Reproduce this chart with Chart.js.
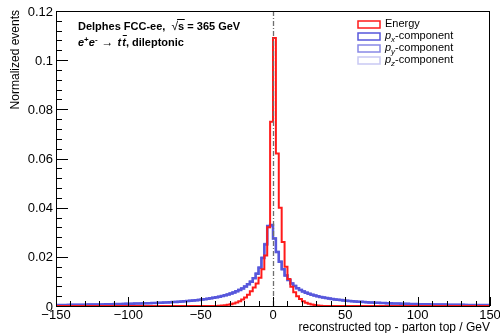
<!DOCTYPE html>
<html>
<head>
<meta charset="utf-8">
<script src="https://cdn.jsdelivr.net/npm/chart.js@4/dist/chart.umd.min.js"></script>
<style>
  body { margin: 0; background: #fff; }
  canvas { display: block; }
</style>
</head>
<body>
<canvas id="grafico" width="500" height="333"></canvas>
<script>
// histogram binning: 150 bins of 2 GeV, -150 .. 150
const binLo = -150;
const binHi = 150;
const binWidth = 2;

const xTicks      = [-150, -100, -50, 0, 50, 100, 150];
const xTickLabels = ['\u2212150', '\u2212100', '\u221250', '0', '50', '100', '150'];
const yTicks      = [0, 0.02, 0.04, 0.06, 0.08, 0.1, 0.12];
const yTickLabels = ['0', '0.02', '0.04', '0.06', '0.08', '0.1', '0.12'];

const seriesNames = ['Energy', 'p_x-component', 'p_y-component', 'p_z-component'];

// Energy (red)
const energyVals = [
  0,0,0,0,0,0,0,0,0,0, 0,0,0,0,0,0,0,0,0,0,
  0,0,0,0,0,0,0,0,0,0, 0,0,0,0,0,0,0,0,0,0,
  0,0,0,0,0,0,0,0,0,0, 0,0,0,0,0,0,0,
  0.0001, 0.0002, 0.0003, 0.0005, 0.0007, 0.0010, 0.0014, 0.0019, 0.0026, 0.0035,
  0.0046, 0.0060, 0.0075, 0.0092, 0.0115, 0.0150, 0.0205, 0.0320, 0.0750, 0.1090,
  0.0620, 0.0400, 0.0260, 0.0160, 0.0110, 0.0078, 0.0056, 0.0040, 0.0028, 0.0019,
  0.0013, 0.0009, 0.0006, 0.0004, 0.0002, 0.0001,
  0,0,0,0,0,0,0,0,0,0, 0,0,0,0,0,0,0,0,0,0,
  0,0,0,0,0,0,0,0,0,0, 0,0,0,0,0,0,0,0,0,0,
  0,0,0,0,0,0,0,0,0,0, 0,0,0,0,0,0,0
];

// p_x (blue)
const pxVals = [
  0.00040, 0.00041, 0.00042, 0.00043, 0.00044, 0.00045, 0.00047, 0.00048, 0.00050, 0.00051,
  0.00053, 0.00055, 0.00056, 0.00058, 0.00060, 0.00062, 0.00064, 0.00066, 0.00069, 0.00071,
  0.00074, 0.00077, 0.00080, 0.00083, 0.00086, 0.00088, 0.00091, 0.00094, 0.00097, 0.00100,
  0.00104, 0.00108, 0.00112, 0.00116, 0.00120, 0.00125, 0.00130, 0.00135, 0.00141, 0.00147,
  0.00153, 0.00160, 0.00167, 0.00175, 0.00183, 0.00192, 0.00202, 0.00212, 0.00223, 0.00235,
  0.00248, 0.00262, 0.00277, 0.00294, 0.00312, 0.00332, 0.00354, 0.00378, 0.00405, 0.00435,
  0.00468, 0.00505, 0.00547, 0.00595, 0.00650, 0.00715, 0.00790, 0.00880, 0.00990, 0.01130,
  0.01310, 0.01560, 0.01950, 0.02500, 0.03250, 0.03300, 0.02750, 0.02200, 0.01800, 0.01500,
  0.01240, 0.01060, 0.00920, 0.00810, 0.00720, 0.00650, 0.00590, 0.00540, 0.00495, 0.00458,
  0.00425, 0.00395, 0.00368, 0.00344, 0.00322, 0.00302, 0.00284, 0.00268, 0.00253, 0.00240,
  0.00227, 0.00215, 0.00204, 0.00194, 0.00185, 0.00176, 0.00168, 0.00160, 0.00153, 0.00146,
  0.00140, 0.00134, 0.00128, 0.00123, 0.00118, 0.00113, 0.00109, 0.00105, 0.00101, 0.00097,
  0.00094, 0.00090, 0.00087, 0.00084, 0.00081, 0.00078, 0.00075, 0.00073, 0.00070, 0.00068,
  0.00066, 0.00064, 0.00062, 0.00060, 0.00058, 0.00056, 0.00054, 0.00052, 0.00051, 0.00049,
  0.00048, 0.00046, 0.00045, 0.00044, 0.00042, 0.00041, 0.00040, 0.00039, 0.00038, 0.00037
];

// p_y (lighter blue)
const pyVals = [
  0.00039, 0.00040, 0.00042, 0.00043, 0.00044, 0.00046, 0.00047, 0.00049, 0.00050, 0.00052,
  0.00053, 0.00055, 0.00057, 0.00059, 0.00061, 0.00063, 0.00065, 0.00067, 0.00070, 0.00072,
  0.00075, 0.00078, 0.00081, 0.00084, 0.00087, 0.00090, 0.00093, 0.00096, 0.00099, 0.00103,
  0.00106, 0.00110, 0.00114, 0.00118, 0.00123, 0.00127, 0.00132, 0.00137, 0.00143, 0.00149,
  0.00155, 0.00162, 0.00169, 0.00177, 0.00185, 0.00194, 0.00204, 0.00214, 0.00226, 0.00238,
  0.00251, 0.00265, 0.00280, 0.00297, 0.00315, 0.00335, 0.00357, 0.00381, 0.00408, 0.00438,
  0.00472, 0.00510, 0.00552, 0.00600, 0.00656, 0.00720, 0.00796, 0.00886, 0.00996, 0.01136,
  0.01318, 0.01570, 0.01960, 0.02520, 0.03220, 0.03280, 0.02760, 0.02210, 0.01810, 0.01510,
  0.01250, 0.01070, 0.00930, 0.00820, 0.00728, 0.00656, 0.00596, 0.00545, 0.00500, 0.00462,
  0.00428, 0.00398, 0.00371, 0.00347, 0.00325, 0.00305, 0.00287, 0.00270, 0.00255, 0.00242,
  0.00229, 0.00217, 0.00206, 0.00196, 0.00186, 0.00177, 0.00169, 0.00161, 0.00154, 0.00147,
  0.00141, 0.00135, 0.00129, 0.00124, 0.00119, 0.00114, 0.00110, 0.00106, 0.00102, 0.00098,
  0.00095, 0.00091, 0.00088, 0.00085, 0.00082, 0.00079, 0.00076, 0.00074, 0.00071, 0.00069,
  0.00067, 0.00065, 0.00063, 0.00061, 0.00059, 0.00057, 0.00055, 0.00053, 0.00052, 0.00050,
  0.00049, 0.00047, 0.00046, 0.00045, 0.00043, 0.00042, 0.00041, 0.00040, 0.00039, 0.00038
];

// p_z (pale lavender)
const pzVals = [
  0.00041, 0.00042, 0.00043, 0.00044, 0.00045, 0.00046, 0.00048, 0.00049, 0.00051, 0.00052,
  0.00054, 0.00056, 0.00057, 0.00059, 0.00061, 0.00063, 0.00066, 0.00068, 0.00070, 0.00073,
  0.00076, 0.00079, 0.00082, 0.00085, 0.00088, 0.00091, 0.00094, 0.00097, 0.00101, 0.00104,
  0.00108, 0.00112, 0.00116, 0.00120, 0.00124, 0.00129, 0.00134, 0.00139, 0.00145, 0.00151,
  0.00157, 0.00164, 0.00171, 0.00179, 0.00187, 0.00196, 0.00206, 0.00217, 0.00228, 0.00240,
  0.00253, 0.00267, 0.00283, 0.00300, 0.00318, 0.00338, 0.00360, 0.00384, 0.00411, 0.00441,
  0.00475, 0.00512, 0.00555, 0.00604, 0.00660, 0.00725, 0.00800, 0.00890, 0.01000, 0.01140,
  0.01320, 0.01580, 0.01970, 0.02540, 0.03200, 0.03260, 0.02740, 0.02190, 0.01790, 0.01490,
  0.01230, 0.01050, 0.00915, 0.00805, 0.00716, 0.00646, 0.00588, 0.00538, 0.00493, 0.00456,
  0.00423, 0.00393, 0.00366, 0.00342, 0.00320, 0.00300, 0.00282, 0.00266, 0.00251, 0.00238,
  0.00225, 0.00213, 0.00202, 0.00192, 0.00183, 0.00174, 0.00166, 0.00158, 0.00151, 0.00145,
  0.00139, 0.00133, 0.00127, 0.00122, 0.00117, 0.00112, 0.00108, 0.00104, 0.00100, 0.00096,
  0.00093, 0.00089, 0.00086, 0.00083, 0.00080, 0.00077, 0.00074, 0.00072, 0.00069, 0.00067,
  0.00065, 0.00063, 0.00061, 0.00059, 0.00057, 0.00055, 0.00053, 0.00051, 0.00050, 0.00048,
  0.00047, 0.00045, 0.00044, 0.00043, 0.00041, 0.00040, 0.00039, 0.00038, 0.00037, 0.00036
];

const coloresSeries = ['#ff1a1a', '#5757dc', '#8888e6', '#c9c9f3'];

// bin contents -> step points at bin edges (last point closes the final bin)
function puntosHist(vals) {
    const pts = vals.map((v, i) => ({ x: binLo + i * binWidth, y: v }));
    pts.push({ x: binHi, y: vals[vals.length - 1] });
    return pts;
}

const FONT = '"Liberation Sans", Arial, Helvetica, sans-serif';

// — ejes estilo ROOT, línea a 0, textos y leyenda —
const pluginMarco = {
    id: 'marco',
    afterDatasetsDraw(chart) {
        const ctx = chart.ctx;
        const a = chart.chartArea;
        const sx = chart.scales.x;
        const sy = chart.scales.y;
        ctx.save();

        // dash-dot line at zero
        ctx.strokeStyle = '#6e6e6e';
        ctx.lineWidth = 1.3;
        ctx.setLineDash([5, 2, 1, 2]);
        const x0 = Math.round(sx.getPixelForValue(0)) + 0.5;
        ctx.beginPath();
        ctx.moveTo(x0, a.top);
        ctx.lineTo(x0, a.bottom);
        ctx.stroke();
        ctx.setLineDash([]);

        // frame
        ctx.strokeStyle = '#000';
        ctx.lineWidth = 1;
        ctx.strokeRect(a.left + 0.5, a.top + 0.5, a.right - a.left - 1, a.bottom - a.top);

        // y ticks (inside), minor every 0.004
        ctx.beginPath();
        for (let k = 0; k <= 30; k++) {
            const v = k * 0.004;
            const py = Math.round(sy.getPixelForValue(v)) + 0.5;
            const len = (k % 5 === 0) ? 12 : 6;
            ctx.moveTo(a.left, py);
            ctx.lineTo(a.left + len, py);
        }
        // x ticks (inside), minor every 10
        for (let k = 0; k <= 30; k++) {
            const v = binLo + k * 10;
            const px = Math.round(sx.getPixelForValue(v)) + 0.5;
            const len = (k % 5 === 0) ? 9 : 5;
            ctx.moveTo(px, a.bottom);
            ctx.lineTo(px, a.bottom - len);
        }
        ctx.stroke();

        // tick labels
        ctx.fillStyle = '#000';
        ctx.font = '13px ' + FONT;
        ctx.textAlign = 'right';
        ctx.textBaseline = 'middle';
        yTicks.forEach((v, i) => {
            ctx.fillText(yTickLabels[i], a.left - 3, sy.getPixelForValue(v) + 1);
        });
        ctx.textAlign = 'center';
        ctx.textBaseline = 'top';
        xTicks.forEach((v, i) => {
            ctx.fillText(xTickLabels[i], sx.getPixelForValue(v), a.bottom + 3);
        });

        // axis titles
        ctx.font = '12px ' + FONT;
        ctx.textAlign = 'right';
        ctx.textBaseline = 'alphabetic';
        ctx.fillText('reconstructed top - parton top / GeV', a.right, 331);
        ctx.save();
        ctx.translate(19, a.top - 1);
        ctx.rotate(-Math.PI / 2);
        ctx.fillText('Normalized events', 0, 0);
        ctx.restore();

        // labels inside the plot
        ctx.textAlign = 'left';
        ctx.font = 'bold 11px ' + FONT;
        let tx = 78, ty = 30;
        const t1 = 'Delphes FCC-ee,  ';
        ctx.fillText(t1, tx, ty);
        tx += ctx.measureText(t1).width;
        ctx.font = '12px ' + FONT;
        ctx.fillText('\u221A', tx, ty);
        const wr = ctx.measureText('\u221A').width;
        ctx.font = 'bold 11px ' + FONT;
        const ws = ctx.measureText('s').width;
        ctx.fillText('s', tx + wr, ty);
        ctx.beginPath();
        ctx.moveTo(tx + wr - 1, ty - 10.5);
        ctx.lineTo(tx + wr + ws + 0.5, ty - 10.5);
        ctx.stroke();
        tx += wr + ws;
        ctx.fillText(' = 365 GeV', tx, ty);

        tx = 78; ty = 46;
        ctx.font = 'bold italic 11px ' + FONT;
        ctx.fillText('e', tx, ty); tx += ctx.measureText('e').width;
        ctx.font = 'bold 8px ' + FONT;
        ctx.fillText('+', tx, ty - 4); tx += ctx.measureText('+').width;
        ctx.font = 'bold italic 11px ' + FONT;
        ctx.fillText('e', tx, ty); tx += ctx.measureText('e').width;
        ctx.font = 'bold 8px ' + FONT;
        ctx.fillText('-', tx, ty - 4); tx += ctx.measureText('-').width + 4;
        ctx.font = '12px ' + FONT;
        ctx.fillText('\u2192', tx, ty); tx += ctx.measureText('\u2192').width + 4;
        ctx.font = 'bold italic 11px ' + FONT;
        const wt = ctx.measureText('t').width;
        ctx.fillText('t', tx, ty); tx += wt + 1;
        ctx.fillText('t', tx, ty);
        ctx.beginPath();
        ctx.moveTo(tx + 0.5, ty - 10.5);
        ctx.lineTo(tx + wt + 1, ty - 10.5);
        ctx.stroke();
        tx += wt;
        ctx.font = 'bold 11px ' + FONT;
        ctx.fillText(', dileptonic', tx, ty);

        // legend
        chart.data.datasets.forEach((ds, i) => {
            const ly = 24 + i * 12;
            ctx.strokeStyle = ds.borderColor;
            ctx.lineWidth = 1.5;
            ctx.strokeRect(358, ly - 3, 22, 7);
            ctx.fillStyle = '#000';
            ctx.textBaseline = 'middle';
            const nombre = seriesNames[i];
            let lx = 385;
            if (nombre.startsWith('p_')) {
                ctx.font = 'italic 11px ' + FONT;
                ctx.fillText('p', lx, ly);
                lx += ctx.measureText('p').width;
                ctx.font = 'italic 8px ' + FONT;
                ctx.fillText(nombre[2], lx, ly + 4);
                lx += ctx.measureText(nombre[2]).width;
                ctx.font = '11px ' + FONT;
                ctx.fillText(nombre.slice(3), lx, ly);
            } else {
                ctx.font = '11px ' + FONT;
                ctx.fillText(nombre, lx, ly);
            }
        });

        ctx.restore();
    }
};

const ctx = document.getElementById('grafico').getContext('2d');
new Chart(ctx, {
    type: 'line',
    data: {
        datasets: [
            { label: seriesNames[0], data: puntosHist(energyVals), borderColor: coloresSeries[0], borderWidth: 2,   order: 0 },
            { label: seriesNames[1], data: puntosHist(pxVals),     borderColor: coloresSeries[1], borderWidth: 2.5, order: 1 },
            { label: seriesNames[2], data: puntosHist(pyVals),     borderColor: coloresSeries[2], borderWidth: 2,   order: 2 },
            { label: seriesNames[3], data: puntosHist(pzVals),     borderColor: coloresSeries[3], borderWidth: 2,   order: 3 }
        ]
    },
    options: {
        responsive: false,
        animation: false,
        stepped: 'after',
        layout: { padding: { left: 56, right: 10, top: 11, bottom: 27 } },
        elements: {
            line: { stepped: 'after', tension: 0, fill: false },
            point: { radius: 0, hoverRadius: 0 }
        },
        scales: {
            x: { type: 'linear', min: binLo, max: binHi, display: false },
            y: { type: 'linear', min: 0, max: 0.12, display: false }
        },
        plugins: {
            legend: { display: false },
            tooltip: { enabled: false }
        }
    },
    plugins: [pluginMarco]
});
</script>
</body>
</html>
